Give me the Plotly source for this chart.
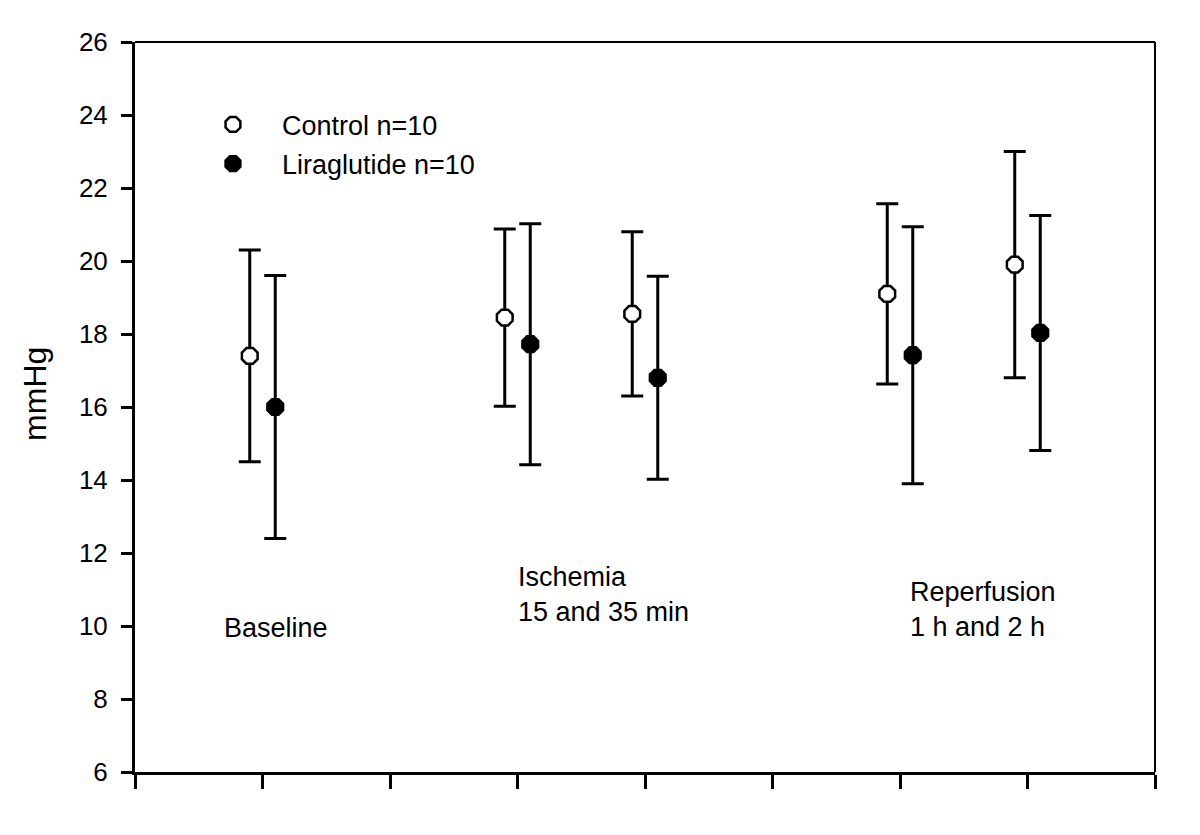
import plotly.graph_objects as go

# Data
timepoints = [1, 3, 4, 6, 7]
control_mean = [17.4, 18.45, 18.55, 19.1, 19.9]
control_err = [2.9, 2.43, 2.25, 2.47, 3.1]
lira_mean = [16.0, 17.72, 16.8, 17.42, 18.03]
lira_err = [3.6, 3.3, 2.78, 3.52, 3.22]
y_ticks = [6, 8, 10, 12, 14, 16, 18, 20, 22, 24, 26]
x_ticks = [0, 1, 2, 3, 4, 5, 6, 7, 8]
series_names = ["Control n=10", "Liraglutide n=10"]

offset = 0.1
FONT = "Liberation Sans, Arial, Helvetica, sans-serif"

fig = go.Figure()
fig.add_trace(go.Scatter(
    x=[t - offset for t in timepoints], y=control_mean, mode="markers",
    name=series_names[0], legendgroup="c",
    marker=dict(symbol="octagon", size=17, color="white",
                line=dict(color="black", width=2.5)),
    error_y=dict(type="data", array=control_err, visible=True,
                 color="black", thickness=3, width=11),
))
fig.add_trace(go.Scatter(
    x=[t + offset for t in timepoints], y=lira_mean, mode="markers",
    name=series_names[1], legendgroup="l",
    marker=dict(symbol="octagon", size=17, color="black",
                line=dict(color="black", width=2.5)),
    error_y=dict(type="data", array=lira_err, visible=True,
                 color="black", thickness=3, width=11),
))

annots = [
    dict(x=0.68, y=9.95, text="Baseline"),
    dict(x=2.99, y=10.85, text="Ischemia<br>15 and 35 min"),
    dict(x=6.06, y=10.45, text="Reperfusion<br>1 h and 2 h"),
]
for a in annots:
    fig.add_annotation(x=a["x"], y=a["y"], text=a["text"], showarrow=False,
                       xanchor="left", yanchor="middle", align="left",
                       font=dict(family=FONT, size=27, color="black"))

# y-axis title as rotated annotation
fig.add_annotation(xref="paper", x=-0.098, y=16.36, text="mmHg", textangle=-90,
                   showarrow=False, xanchor="center", yanchor="middle",
                   font=dict(family=FONT, size=32, color="black"))

# top and right frame lines
fig.add_shape(type="line", xref="paper", yref="paper", x0=0, x1=1, y0=1, y1=1,
              line=dict(color="black", width=2))
fig.add_shape(type="line", xref="paper", yref="paper", x0=1, x1=1, y0=0, y1=1,
              line=dict(color="black", width=2))

fig.update_layout(
    width=1184, height=819,
    margin=dict(l=127, r=37, t=34, b=55),
    paper_bgcolor="white", plot_bgcolor="white",
    font=dict(family=FONT, size=25, color="black"),
    showlegend=True,
    legend=dict(x=0.048, y=0.92, xanchor="left", yanchor="top",
                itemwidth=88, traceorder="grouped", tracegroupgap=1,
                font=dict(family=FONT, size=27, color="black"),
                bgcolor="rgba(0,0,0,0)", borderwidth=0),
    xaxis=dict(range=[0, 8], tickvals=x_ticks, showticklabels=False,
               ticks="outside", ticklen=14, tickwidth=2.5, tickcolor="black",
               showline=True, linewidth=3, linecolor="black",
               showgrid=False, zeroline=False),
    yaxis=dict(range=[6, 26], tickvals=y_ticks,
               ticks="outside", ticklen=11, tickwidth=2.5, tickcolor="black",
               ticklabelstandoff=8,
               showline=True, linewidth=3, linecolor="black",
               showgrid=False, zeroline=False,
               tickfont=dict(family=FONT, size=26, color="black")),
)

fig.write_html("out.html")
